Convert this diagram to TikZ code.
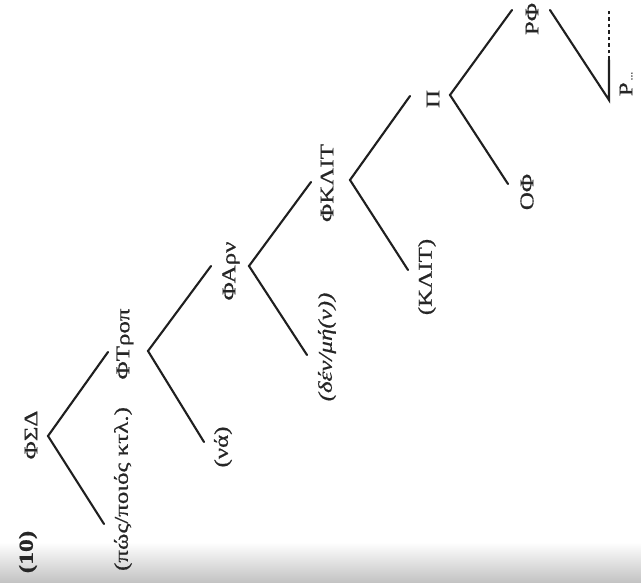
\documentclass[tikz,border=0pt]{standalone}
\usepackage{fontspec}
\setmainfont{Liberation Serif}[FakeBold=0.6]
\usetikzlibrary{calc}
\tikzset{
  branch/.style={line width=2.1pt, line cap=round, black!88},
  lbl/.style={rotate=90, inner sep=0pt, font=\fontsize{19.5}{22}\selectfont, text=black!85},
}
% stretch text along its writing direction
\newcommand{\wide}[1]{\scalebox{1.28}[1]{#1}}
\begin{document}
\begin{tikzpicture}[x=1pt, y=-1pt]
\useasboundingbox (0,0) rectangle (641,583);
% grey band along the lower edge
\shade[top color=white, bottom color=black!24] (0,542) rectangle (641,583);

% branching points and leaf ends
\coordinate (sd) at (48,436);
\coordinate (tr) at (148,351);
\coordinate (ar) at (249,266);
\coordinate (kl) at (350,180);
\coordinate (p) at (450,95);
\coordinate (rf) at (550,10);
\coordinate (sdL) at (104,524);
\coordinate (sdR) at (108,352);
\coordinate (trL) at (204,442);
\coordinate (trR) at (211,266);
\coordinate (arL) at (307,355);
\coordinate (arR) at (311,182);
\coordinate (klL) at (408,270);
\coordinate (klR) at (410,96);
\coordinate (pL) at (508,184);
\coordinate (pR) at (512,10);
\coordinate (rfL) at (609,100);
\coordinate (rfM) at (609,60);
\coordinate (rfT) at (609,10);

% labels
\node[lbl, font=\fontsize{20}{22}\selectfont\bfseries] (ex) at (28,552) {\wide{(10)}};
\node[lbl] (nSD) at (31,435) {\wide{ΦΣΔ}};
\node[lbl] (nSDc) at (123,489) {\wide{(πώς/ποιός κτλ.)}};
\node[lbl] (nTR) at (125,344) {\wide{ΦΤροπ}};
\node[lbl] (nTRc) at (223,447) {\wide{(νά)}};
\node[lbl] (nAR) at (231,271) {\wide{ΦΑρν}};
\node[lbl] (nARc) at (327,347) {\wide{\itshape(δέν/μή(ν))}};
\node[lbl] (nKL) at (327,183) {\wide{ΦΚΛΙΤ}};
\node[lbl] (nKLc) at (427,277) {\wide{(ΚΛΙΤ)}};
\node[lbl] (nP) at (433,99) {\wide{Π}};
\node[lbl] (nOF) at (527,192) {\wide{ΟΦ}};
\node[lbl] (nRF) at (532,19) {\wide{ΡΦ}};
\node[lbl] (nR) at (626,84) {\wide{Ρ{\fontsize{9}{10}\selectfont\,...}}};

% tree branches
\draw[branch] (sdL) -- (sd) -- (sdR);
\draw[branch] (trL) -- (tr) -- (trR);
\draw[branch] (arL) -- (ar) -- (arR);
\draw[branch] (klL) -- (kl) -- (klR);
\draw[branch] (pL) -- (p) -- (pR);
\draw[branch] (rf) -- (rfL) -- (rfM);
\draw[branch, line cap=butt, dash pattern=on 3.5pt off 3pt] (rfM) -- (rfT);
\end{tikzpicture}
\end{document}
